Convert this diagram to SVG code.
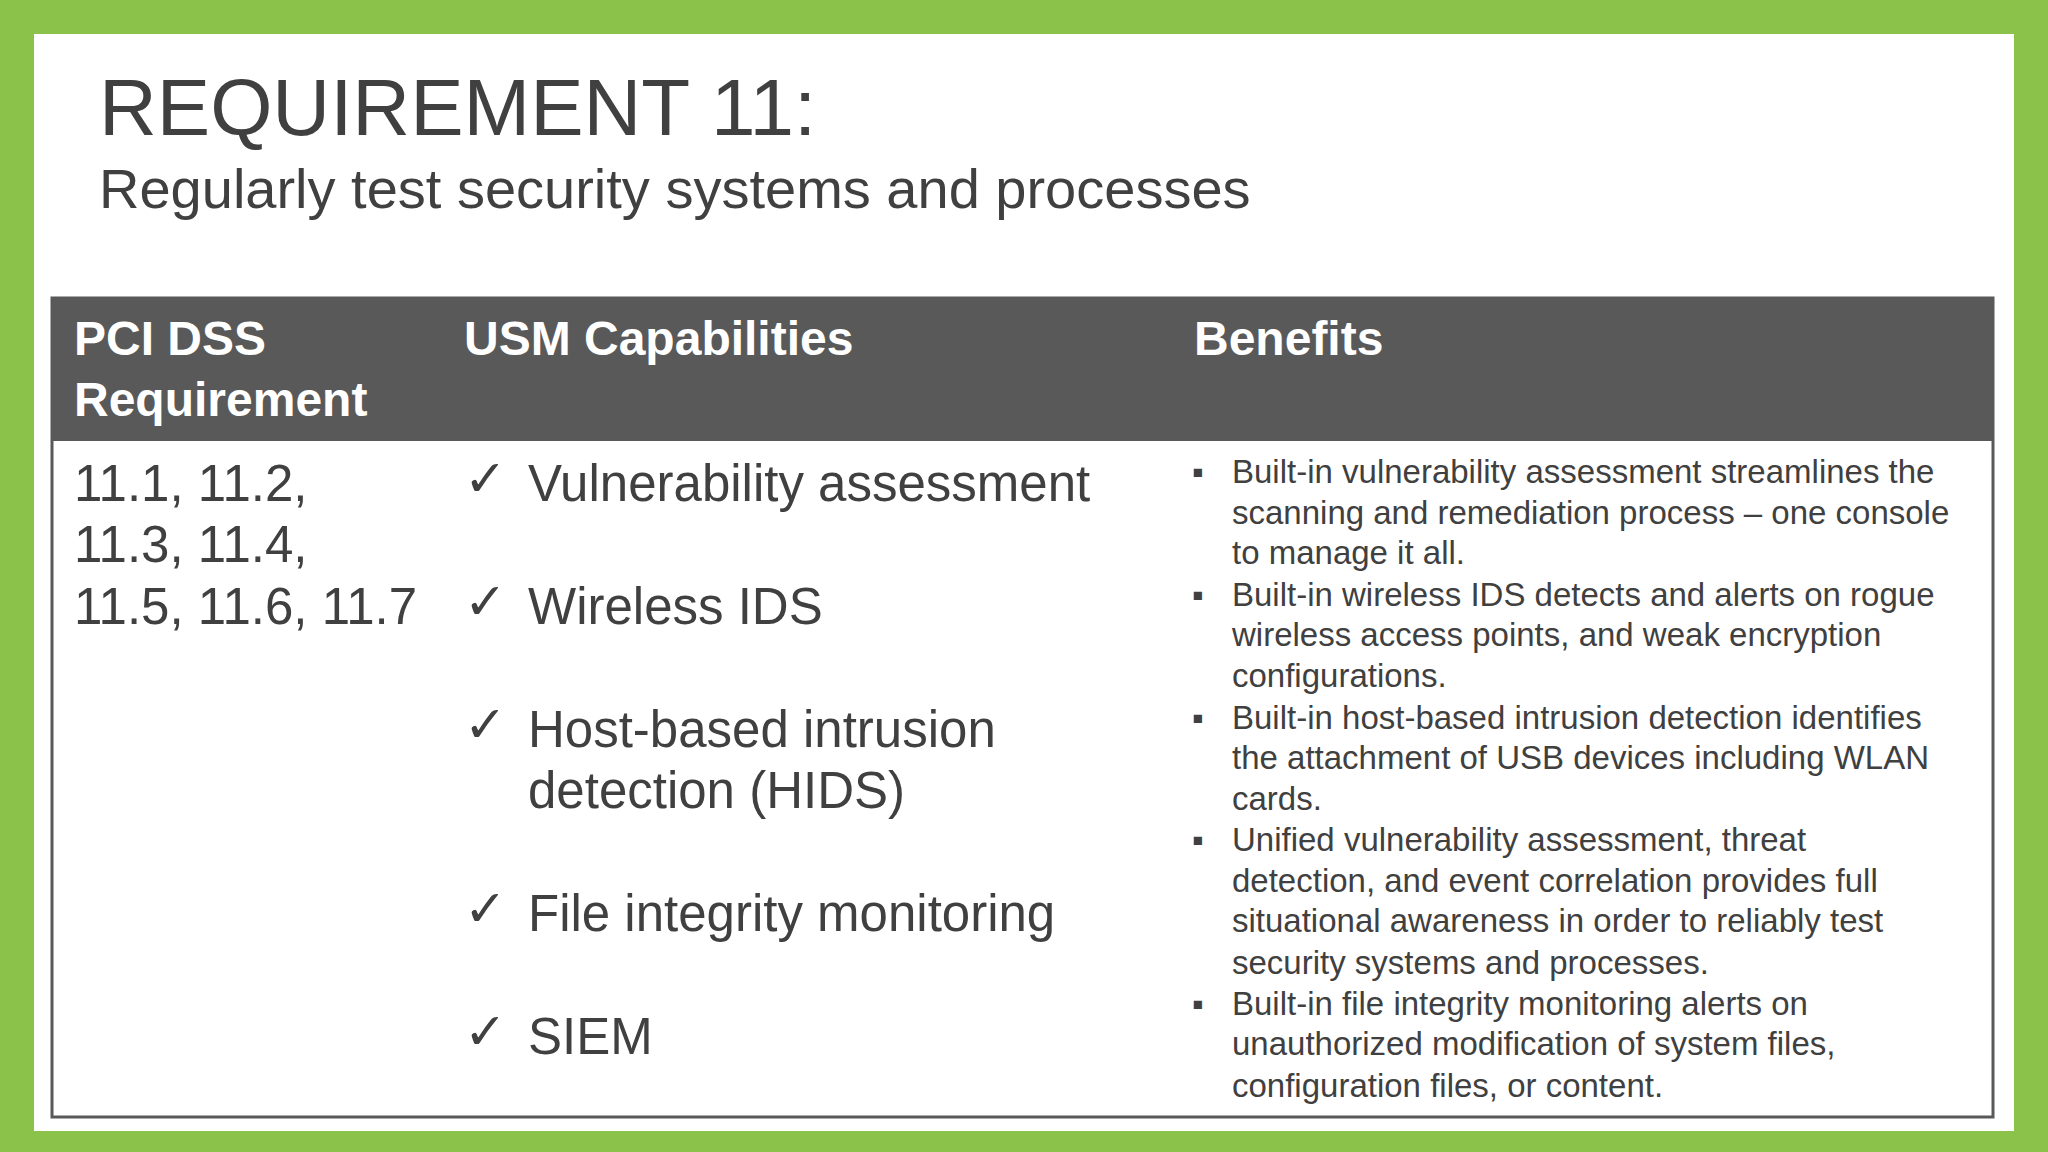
<svg xmlns="http://www.w3.org/2000/svg" width="2048" height="1152" viewBox="0 0 2048 1152">
<style>
text{font-family:"Liberation Sans",Arial,sans-serif;fill:#404040}
.h{font-weight:bold;fill:#fff;font-size:48px}
.b{font-size:51px}
.s{font-size:33px}
</style>
<rect width="2048" height="1152" fill="#8BC34A"/>
<rect x="34" y="34" width="1980" height="1097" fill="#fff"/>
<g id="title">
<text x="99" y="135" font-size="80">REQUIREMENT 11:</text>
<text x="99" y="208" font-size="56">Regularly test security systems and processes</text>
</g>
<g id="table">
<rect x="52" y="298" width="1941" height="819" fill="#fff" stroke="#595959" stroke-width="3"/>
<rect x="52" y="298" width="1941" height="143" fill="#595959"/>
<text class="h" x="74" y="355">PCI DSS</text>
<text class="h" x="74" y="416">Requirement</text>
<text class="h" x="464" y="355">USM Capabilities</text>
<text class="h" x="1194" y="355">Benefits</text>
</g>
<g id="col1" class="b">
<text class="b" x="74" y="501">11.1, 11.2,</text>
<text class="b" x="74" y="562">11.3, 11.4,</text>
<text class="b" x="74" y="624">11.5, 11.6, 11.7</text>
</g>
<g id="col2">
<text class="b" x="464" y="496" font-family="DejaVu Sans">✓</text><text class="b" x="528" y="501">Vulnerability assessment</text>
<text class="b" x="464" y="619" font-family="DejaVu Sans">✓</text><text class="b" x="528" y="624">Wireless IDS</text>
<text class="b" x="464" y="742" font-family="DejaVu Sans">✓</text><text class="b" x="528" y="747">Host-based intrusion</text>
<text class="b" x="528" y="808">detection (HIDS)</text>
<text class="b" x="464" y="926" font-family="DejaVu Sans">✓</text><text class="b" x="528" y="931">File integrity monitoring</text>
<text class="b" x="464" y="1049" font-family="DejaVu Sans">✓</text><text class="b" x="528" y="1054">SIEM</text>
</g>
<g id="col3">
<text class="s" x="1192" y="483">▪</text><text class="s" x="1232" y="483">Built-in vulnerability assessment streamlines the</text>
<text class="s" x="1232" y="524">scanning and remediation process – one console</text>
<text class="s" x="1232" y="564">to manage it all.</text>
<text class="s" x="1192" y="606">▪</text><text class="s" x="1232" y="606">Built-in wireless IDS detects and alerts on rogue</text>
<text class="s" x="1232" y="646">wireless access points, and weak encryption</text>
<text class="s" x="1232" y="687">configurations.</text>
<text class="s" x="1192" y="729">▪</text><text class="s" x="1232" y="729">Built-in host-based intrusion detection identifies</text>
<text class="s" x="1232" y="769">the attachment of USB devices including WLAN</text>
<text class="s" x="1232" y="810">cards.</text>
<text class="s" x="1192" y="851">▪</text><text class="s" x="1232" y="851">Unified vulnerability assessment, threat</text>
<text class="s" x="1232" y="892">detection, and event correlation provides full</text>
<text class="s" x="1232" y="932">situational awareness in order to reliably test</text>
<text class="s" x="1232" y="974">security systems and processes.</text>
<text class="s" x="1192" y="1015">▪</text><text class="s" x="1232" y="1015">Built-in file integrity monitoring alerts on</text>
<text class="s" x="1232" y="1055">unauthorized modification of system files,</text>
<text class="s" x="1232" y="1097">configuration files, or content.</text>
</g>
</svg>
